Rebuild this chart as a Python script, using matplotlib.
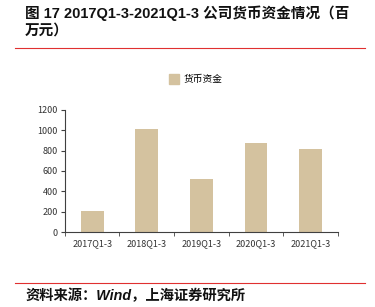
import matplotlib
matplotlib.use('Agg')
import matplotlib.pyplot as plt
from matplotlib.lines import Line2D

plt.rcParams['font.family'] = ['Noto Sans CJK SC', 'DejaVu Sans']

# 数据
categories = ['2017Q1-3', '2018Q1-3', '2019Q1-3', '2020Q1-3', '2021Q1-3']
cash = [210, 1010, 525, 878, 812]
series_name = '货币资金'

bar_color = '#D4C29F'
axis_color = '#404040'
latin_cjk = ['Liberation Sans', 'Noto Sans CJK SC']

fig = plt.figure(figsize=(3.75, 3.07), dpi=100)
ax = fig.add_axes([0.173, 0.244, 0.728, 0.398])

x = list(range(len(categories)))
ax.bar(x, cash, width=0.42, color=bar_color, label=series_name)

ax.set_xlim(-0.5, len(categories) - 0.5)
ax.set_ylim(0, 1200)
ax.set_yticks(range(0, 1201, 200))
ax.set_xticks(x)
ax.set_xticklabels(categories)
# 刻度线放在类别边界
ax.set_xticks([i - 0.5 for i in range(len(categories) + 1)], minor=True)
ax.tick_params(axis='x', which='major', length=0, labelsize=6.5, colors='#333333', pad=5)
ax.tick_params(axis='x', which='minor', length=3, color=axis_color, direction='out')
ax.tick_params(axis='y', length=3, color=axis_color, labelsize=6.5, labelcolor='#333333', pad=2)

for s in ['top', 'right']:
    ax.spines[s].set_visible(False)
for s in ['left', 'bottom']:
    ax.spines[s].set_color(axis_color)
    ax.spines[s].set_linewidth(0.8)

# 图例
handle = Line2D([], [], marker='s', linestyle='', markersize=7,
                markerfacecolor=bar_color, markeredgecolor=bar_color)
fig.legend([handle], [series_name], loc='center', bbox_to_anchor=(0.515, 0.742),
           frameon=False, fontsize=7, handletextpad=0.0, borderpad=0)

# 标题
fig.text(0.067, 0.958, '图 17 2017Q1-3-2021Q1-3 公司货币资金情况（百',
         fontsize=10.5, fontweight='bold', va='center', ha='left', color='#111111',
         family=latin_cjk)
fig.text(0.067, 0.9, '万元）', fontsize=10.5, fontweight='bold',
         va='center', ha='left', color='#111111', family=latin_cjk)

# 红线
fig.add_artist(Line2D([0.04, 0.973], [0.843, 0.843], color='#E03030', linewidth=0.8))
fig.add_artist(Line2D([0.04, 0.973], [0.078, 0.078], color='#E03030', linewidth=0.8))

# 资料来源
fig.text(0.067, 0.035, '资料来源：Wind，上海证券研究所', fontsize=10.3,
         fontweight='bold', style='italic', va='center', ha='left', color='#111111',
         family=latin_cjk)

fig.savefig('out.png', dpi=100)
